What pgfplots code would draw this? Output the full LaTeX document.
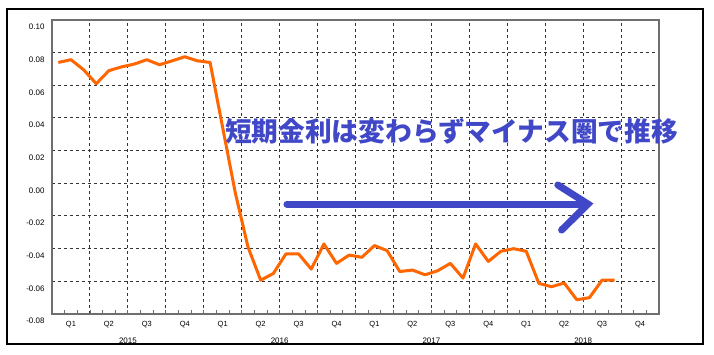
\documentclass[border=0pt]{standalone}
\usepackage{pgfplots}
\pgfplotsset{compat=1.18}
\usepackage{fontspec}
\setmainfont{Liberation Sans}
\newfontfamily\cjk{Noto Sans CJK JP}
\definecolor{lineorange}{RGB}{255,102,0}
\definecolor{annblue}{RGB}{64,72,200}
\definecolor{axgray}{RGB}{110,110,110}
\pgfplotstableread{
m v
0.5 0.0740
1.5 0.0757
2.5 0.0695
3.5 0.0610
4.5 0.0690
5.5 0.0713
6.5 0.0730
7.5 0.0757
8.5 0.0726
9.5 0.0750
10.5 0.0775
11.5 0.0750
12.5 0.0740
13.5 0.0340
14.5 -0.0060
15.5 -0.0390
16.5 -0.0593
17.5 -0.0552
18.5 -0.0432
19.5 -0.0432
20.5 -0.0525
21.5 -0.0371
22.5 -0.0490
23.5 -0.0439
24.5 -0.0453
25.5 -0.0381
26.5 -0.0412
27.5 -0.0540
28.5 -0.0531
29.5 -0.0560
30.5 -0.0535
31.5 -0.0490
32.5 -0.0580
33.5 -0.0371
34.5 -0.0478
35.5 -0.0416
36.5 -0.0400
37.5 -0.0416
38.5 -0.0613
39.5 -0.0633
40.5 -0.0610
41.5 -0.0713
42.5 -0.0700
43.5 -0.0592
44.5 -0.0592
}\rates
\begin{document}
\begin{tikzpicture}
\useasboundingbox (0,0) rectangle (714bp,355bp);
\fill[white] (0,0) rectangle (714bp,355bp);
\draw[black, line width=1.3bp] (7bp,11bp) rectangle (703bp,346bp);
\begin{axis}[
  at={(52bp,41bp)}, anchor=south west,
  scale only axis, width=607bp, height=294bp,
  xmin=0, xmax=48, ymin=-0.08, ymax=0.10,
  axis line style={axgray, line width=1.2bp},
  xtick={0,3,...,48}, xticklabels={},
  minor xtick={0,1,...,48},
  ytick={-0.08,-0.06,...,0.101},
  /pgf/number format/fixed,
  /pgf/number format/fixed zerofill,
  /pgf/number format/precision=2,
  /pgf/number format/assume math mode=true,
  yticklabel style={font=\fontsize{8}{9}\selectfont, yshift=-7bp, xshift=-4bp},
  ytick style={draw=none},
  major x tick style={draw=none},
  minor x tick style={axgray, line width=0.8bp},
  minor tick length=4bp,
  tick align=inside,
  xtick pos=bottom,
  xmajorgrids, ymajorgrids,
  major grid style={black!80, line width=1bp, dash pattern=on 3bp off 3bp},
  extra x ticks={1.5,4.5,...,46.5},
  extra x tick labels={Q1,Q2,Q3,Q4,Q1,Q2,Q3,Q4,Q1,Q2,Q3,Q4,Q1,Q2,Q3,Q4},
  extra x tick style={grid=none, major tick length=0pt, tick style={draw=none},
     tick label style={font=\fontsize{7.5}{8}\selectfont, yshift=-3.5bp}},
  clip=false,
]
\addplot[lineorange, line width=3bp, line join=round] table[x=m, y=v] {\rates};
\node[font=\fontsize{8}{9}\selectfont] at (axis cs:6,-0.08) [yshift=-27bp] {2015};
\node[font=\fontsize{8}{9}\selectfont] at (axis cs:18,-0.08) [yshift=-27bp] {2016};
\node[font=\fontsize{8}{9}\selectfont] at (axis cs:30,-0.08) [yshift=-27bp] {2017};
\node[font=\fontsize{8}{9}\selectfont] at (axis cs:42,-0.08) [yshift=-27bp] {2018};
\node[font=\cjk\bfseries\fontsize{26.8}{28}\selectfont, text=annblue, inner sep=0pt] at (axis cs:31.6,0.032) {短期金利は変わらずマイナス圏で推移};
\draw[annblue, line width=7bp, line cap=round] (axis cs:18.58,-0.0127) -- (axis cs:42.2,-0.0127);
\draw[annblue, line width=7bp, line cap=round, line join=miter] (axis cs:40.0,-0.001) -- (axis cs:42.38,-0.0127) -- (axis cs:40.3,-0.0286);
\end{axis}
\end{tikzpicture}
\end{document}
